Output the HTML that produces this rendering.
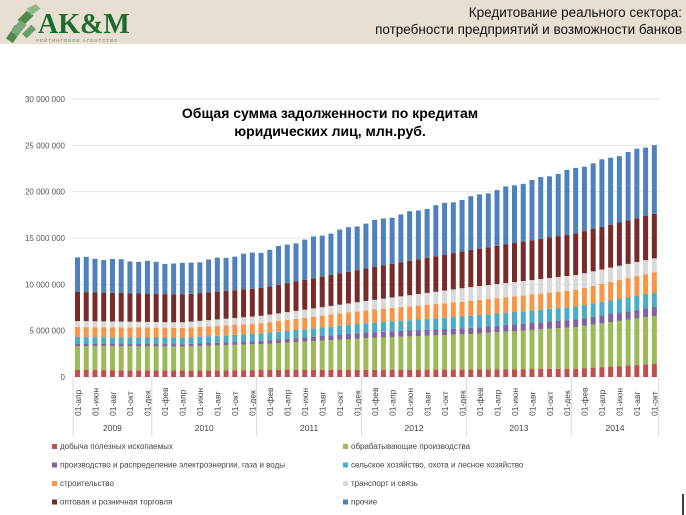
<!DOCTYPE html>
<html><head><meta charset="utf-8"><style>
body{margin:0;width:686px;height:515px;background:#fff;overflow:hidden;font-family:"Liberation Sans",sans-serif;position:relative}
#hdr{position:absolute;left:0;top:0;width:686px;height:44px;background:#e6dfd2}
.t{position:absolute;right:4px;font-size:13.5px;color:#111;text-align:right}
</style></head><body>
<div id="hdr"></div>
<div class="t" style="top:5px">Кредитование реального сектора:</div>
<div class="t" style="top:22px">потребности предприятий и возможности банков</div>
<svg width="686" height="515" style="position:absolute;left:0;top:0" id="s">
<g fill="#4e8a50" transform="translate(6,4) scale(1.15)">
<polygon points="0,30 8,18 14,22 6,34"/><polygon points="10,14 18,6 24,10 16,18"/><polygon points="4,24 12,14 18,18 10,28" fill="#7aa878"/>
<polygon points="18,4 26,0 30,4 22,10" fill="#8db88a"/><polygon points="14,26 22,18 26,22 18,30" fill="#6a9e68"/>
</g>
<text x="38" y="33" font-family="Liberation Serif" font-weight="bold" font-size="28" fill="#1e6b2e">AK&amp;M</text>
<text x="36" y="42" font-size="4.5" fill="#6a8a6a" letter-spacing="1">РЕЙТИНГОВОЕ АГЕНТСТВО</text>
<text x="330" y="118" font-size="14" font-weight="bold" text-anchor="middle" fill="#000">Общая сумма задолженности по кредитам</text>
<text x="330" y="136" font-size="14" font-weight="bold" text-anchor="middle" fill="#000">юридических лиц, млн.руб.</text>
<line x1="683" y1="494" x2="683" y2="515" stroke="#000" stroke-width="1.5"/>
</svg>
<script>
var s=document.getElementById('s'),NS='http://www.w3.org/2000/svg';
function el(n,a,t){var e=document.createElementNS(NS,n);for(var k in a)e.setAttribute(k,a[k]);if(t)e.textContent=t;s.appendChild(e);return e;}
var y0=377,k=9.27;
var lbl=['30 000 000','25 000 000','20 000 000','15 000 000','10 000 000','5 000 000','0'];
for(var i=0;i<7;i++){var y=99+i*46.33;el('line',{x1:72,x2:660,y1:y,y2:y,stroke:'#e4e4e4','stroke-width':1});
el('text',{x:65,y:y+3,'font-size':8,fill:'#555','text-anchor':'end'},lbl[i]);}
var idx=[0,12,21,33,45,57,66];
var cum=[[0.76,3.34,3.56,4.31,5.39,6.04,9.17,12.9],[0.7,3.3,3.55,4.25,5.3,5.9,8.9,12.2],[0.75,3.55,3.9,4.7,5.8,6.6,9.6,13.5],
[0.78,4.2,4.8,5.8,7.2,8.2,11.7,16.6],[0.8,4.64,5.3,6.6,8.2,9.7,13.7,19.4],[0.9,5.4,6.2,7.6,9.4,11.0,15.5,22.5],[1.4,6.58,7.55,9.06,11.3,12.8,17.6,25.1]];
var col=['#c0504d','#9bbb59','#8064a2','#4bacc6','#f79646','#d9d9d9','#772c2a','#4f81bd'];
var mon=['янв','фев','мар','апр','май','июн','июл','авг','сен','окт','ноя','дек'];
for(var b=0;b<67;b++){var j=0;while(j<5&&idx[j+1]<b)j++;var f=(b-idx[j])/(idx[j+1]-idx[j]);
var x=75+b*8.74,prev=0;
for(var c=0;c<8;c++){var v=cum[j][c]+(cum[j+1][c]-cum[j][c])*f;v+=(c==7?Math.sin(b*1.7)*0.12:0);
el('rect',{x:x,y:y0-v*k,width:5,height:(v-prev)*k,fill:col[c]});prev=v;}
if(b%2==0){var m=(3+b)%12;var tx=x+5.8;el('text',{x:tx,y:416,'font-size':8.5,fill:'#444','text-anchor':'start',transform:'rotate(-90 '+tx+' 416)'},'01-'+mon[m]);}}
var yr=['2009','2010','2011','2012','2013','2014'],st=[-0.5,8.5,20.5,32.5,44.5,56.5,66.5];
for(var i=0;i<7;i++){var x=75+2.5+st[i]*8.74;el('line',{x1:x,x2:x,y1:378,y2:436,stroke:'#d9d9d9'});
if(i<6){var x2=75+2.5+st[i+1]*8.74;el('text',{x:(x+x2)/2,y:431,'font-size':8.5,fill:'#444','text-anchor':'middle'},yr[i]);}}
var L=[['добыча полезных ископаемых','обрабатывающие производства'],['производство и распределение электроэнергии, газа и воды','сельское хозяйство, охота и лесное хозяйство'],['строительство','транспорт и связь'],['оптовая и розничная торговля','прочие']];
for(var r=0;r<4;r++)for(var c=0;c<2;c++){var y=449+r*18.5,x=c?343:52;
el('rect',{x:x,y:y-5,width:5,height:5,fill:col[r*2+c]});
el('text',{x:x+8,y:y,'font-size':8,fill:'#444'},L[r][c]);}
</script>
</body></html>
